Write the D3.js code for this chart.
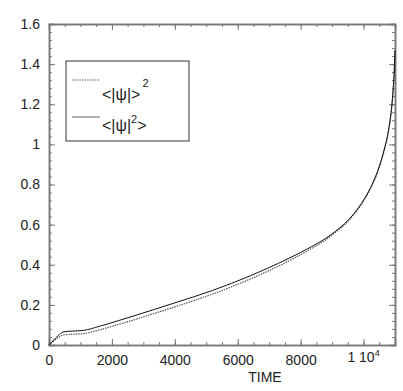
<!DOCTYPE html>
<html>
<head>
<meta charset="utf-8">
<script src="https://cdn.jsdelivr.net/npm/d3@7"></script>
<style>
  body { margin: 0; background: #fff; }
  svg { font-family: "Liberation Sans", Arial, sans-serif; }
</style>
</head>
<body>
<svg width="403" height="391"></svg>
<script>
(function () {
  'use strict';

  // time samples (shared by both curves)
  var time = [0, 150, 300, 450, 700, 1100, 1600, 2200, 2800, 3400, 4000, 4600, 5200, 5800,
    6400, 7000, 7600, 8200, 8800, 9100, 9400, 9700, 10000, 10300, 10500, 10650, 10770, 10860, 10920,
    10960, 10985, 11000];
  // <|psi|^2>  (solid)
  var meanSq = [0, 0.025, 0.048, 0.065, 0.069, 0.073, 0.093, 0.121, 0.15, 0.18, 0.21, 0.24, 0.272, 0.307,
    0.345, 0.386, 0.43, 0.478, 0.532, 0.566, 0.605, 0.656, 0.722, 0.81, 0.89, 0.97, 1.05, 1.14, 1.23,
    1.32, 1.4, 1.47];
  // <|psi|>^2  (dotted)
  var sqMean = [0, 0.02, 0.038, 0.05, 0.053, 0.057, 0.075, 0.102, 0.13, 0.16, 0.19, 0.221, 0.254, 0.29,
    0.329, 0.371, 0.417, 0.468, 0.525, 0.561, 0.6, 0.652, 0.718, 0.806, 0.886, 0.966, 1.046, 1.136, 1.226,
    1.316, 1.396, 1.465];

  var xMajor = [0, 2000, 4000, 6000, 8000, 10000];
  var yMajor = [0, 0.2, 0.4, 0.6, 0.8, 1, 1.2, 1.4, 1.6];

  var left = 49, right = 395, top = 24, bottom = 345;
  var frameColor = '#777';

  var svg = d3.select('svg');
  var x = d3.scaleLinear().domain([0, 11000]).range([left, right]);
  var y = d3.scaleLinear().domain([0, 1.6]).range([bottom, top]);

  var xMinor = d3.range(0, 11001, 500);
  var yMinor = d3.range(0, 1.6001, 0.04);

  function fmtX(d) { return d === 10000 ? '' : String(d); }
  var fmtY = d3.format('~g');

  function styleAxis(g) {
    g.selectAll('path.domain').attr('stroke', frameColor).attr('stroke-width', 1.5);
    g.selectAll('.tick line').attr('stroke', frameColor);
    g.selectAll('.tick text').attr('fill', '#222').style('font-size', '14px');
  }

  // bottom
  svg.append('g').attr('transform', 'translate(0,' + bottom + ')')
    .call(d3.axisBottom(x).tickValues(xMinor).tickSize(-3).tickFormat(''))
    .call(styleAxis);
  svg.append('g').attr('transform', 'translate(0,' + bottom + ')')
    .call(d3.axisBottom(x).tickValues(xMajor).tickSize(-6).tickPadding(10).tickFormat(fmtX))
    .call(styleAxis);
  // top
  svg.append('g').attr('transform', 'translate(0,' + top + ')')
    .call(d3.axisTop(x).tickValues(xMinor).tickSize(-3).tickFormat(''))
    .call(styleAxis);
  svg.append('g').attr('transform', 'translate(0,' + top + ')')
    .call(d3.axisTop(x).tickValues(xMajor).tickSize(-6).tickFormat(''))
    .call(styleAxis);
  // left
  svg.append('g').attr('transform', 'translate(' + left + ',0)')
    .call(d3.axisLeft(y).tickValues(yMinor).tickSize(-3).tickFormat(''))
    .call(styleAxis);
  svg.append('g').attr('transform', 'translate(' + left + ',0)')
    .call(d3.axisLeft(y).tickValues(yMajor).tickSize(-6).tickPadding(9).tickFormat(fmtY))
    .call(styleAxis);
  // right
  svg.append('g').attr('transform', 'translate(' + right + ',0)')
    .call(d3.axisRight(y).tickValues(yMinor).tickSize(-3).tickFormat(''))
    .call(styleAxis);
  svg.append('g').attr('transform', 'translate(' + right + ',0)')
    .call(d3.axisRight(y).tickValues(yMajor).tickSize(-6).tickFormat(''))
    .call(styleAxis);

  // "1 10^4" label
  var t4 = svg.append('text')
    .attr('x', x(10000)).attr('y', bottom + 17)
    .attr('text-anchor', 'middle').attr('fill', '#222').style('font-size', '14px');
  t4.append('tspan').text('1 10');
  t4.append('tspan').attr('dy', -6).style('font-size', '9px').text('4');

  svg.append('text')
    .attr('x', 265).attr('y', 382)
    .attr('text-anchor', 'middle').attr('fill', '#222').style('font-size', '14px')
    .text('TIME');

  var line = d3.line().curve(d3.curveMonotoneX);

  svg.append('path')
    .attr('d', line(time.map(function (t, i) { return [x(t), y(sqMean[i])]; })))
    .attr('fill', 'none').attr('stroke', '#555').attr('stroke-width', 1.2)
    .attr('stroke-dasharray', '1.5,1');

  svg.append('path')
    .attr('d', line(time.map(function (t, i) { return [x(t), y(meanSq[i])]; })))
    .attr('fill', 'none').attr('stroke', '#111').attr('stroke-width', 1);

  // legend
  var lg = svg.append('g');
  lg.append('rect').attr('x', 66).attr('y', 61).attr('width', 123).attr('height', 80)
    .attr('fill', '#fff').attr('stroke', '#333').attr('stroke-width', 1);
  lg.append('line').attr('x1', 72).attr('x2', 100).attr('y1', 80).attr('y2', 80)
    .attr('stroke', '#666').attr('stroke-dasharray', '1.5,1');
  lg.append('line').attr('x1', 72).attr('x2', 100).attr('y1', 117).attr('y2', 117)
    .attr('stroke', '#666');

  var l1 = lg.append('text').attr('x', 102).attr('y', 100).attr('fill', '#222').style('font-size', '16px');
  l1.append('tspan').text('<|ψ|>');
  l1.append('tspan').attr('dx', 2).attr('dy', -13).style('font-size', '11px').text('2');

  var l2 = lg.append('text').attr('x', 102).attr('y', 131).attr('fill', '#222').style('font-size', '16px');
  l2.append('tspan').text('<|ψ|');
  l2.append('tspan').attr('dy', -8).style('font-size', '11px').text('2');
  l2.append('tspan').attr('dy', 8).text('>');
}());
</script>
</body>
</html>
